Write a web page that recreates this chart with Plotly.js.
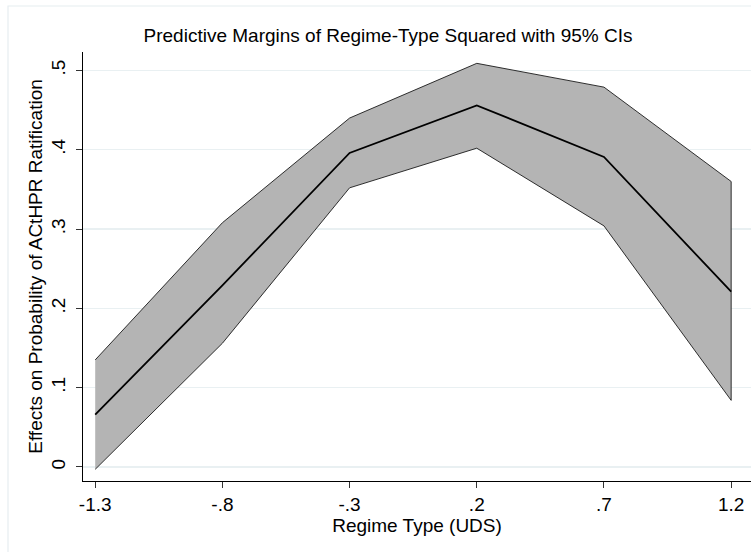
<!DOCTYPE html>
<html>
<head>
<meta charset="utf-8">
<script src="https://cdn.plot.ly/plotly-3.0.1.min.js"></script>
<style>
  html, body { margin: 0; padding: 0; background: #ffffff; }
  #chart { width: 751px; height: 552px; }
</style>
</head>
<body>
<div id="chart"></div>
<script>
// Regime type (UDS) values at which margins were computed
const regimeType = [-1.3, -0.8, -0.3, 0.2, 0.7, 1.2];
// Predicted probability of ratification and its 95% confidence bounds
const margin = [0.066, 0.229, 0.396, 0.456, 0.391, 0.221];
const upperCI = [0.135, 0.308, 0.440, 0.509, 0.479, 0.360];
const lowerCI = [-0.003, 0.156, 0.352, 0.402, 0.304, 0.084];

const xTickVals = [-1.3, -0.8, -0.3, 0.2, 0.7, 1.2];
const xTickText = ["-1.3", "-.8", "-.3", ".2", ".7", "1.2"];
const yTickVals = [0, 0.1, 0.2, 0.3, 0.4, 0.5];
const yTickText = ["0", ".1", ".2", ".3", ".4", ".5"];

// Closed polygon for the confidence band: upper bound forward, lower bound back
const bandX = regimeType.concat(regimeType.slice().reverse());
const bandY = upperCI.concat(lowerCI.slice().reverse());

const font = "Liberation Sans, Arial, sans-serif";
const fs = 19;

const traces = [
  {
    x: bandX, y: bandY, type: "scatter", mode: "lines",
    fill: "toself", fillcolor: "#b4b4b4",
    line: { color: "#1a1a1a", width: 0.9 },
    hoverinfo: "skip", showlegend: false
  },
  {
    x: regimeType, y: margin, type: "scatter", mode: "lines",
    line: { color: "#000000", width: 1.8 },
    showlegend: false
  }
];

const layout = {
  width: 751, height: 552,
  margin: { l: 83, r: 0, t: 52, b: 71 },
  paper_bgcolor: "#ffffff",
  plot_bgcolor: "#ffffff",
  font: { family: font, color: "#000000", size: fs },
  title: {
    text: "Predictive Margins of Regime-Type Squared with 95% CIs",
    font: { family: font, size: fs, color: "#000000" },
    x: 388 / 751, xref: "container", xanchor: "center",
    y: 1 - 35 / 552, yref: "container", yanchor: "middle"
  },
  xaxis: {
    range: [-1.348, 1.278],
    tickmode: "array", tickvals: xTickVals, ticktext: xTickText,
    ticks: "outside", ticklen: 6, tickwidth: 1, tickcolor: "#333333",
    showline: true, linecolor: "#000000", linewidth: 1.2,
    showgrid: false, zeroline: false,
    tickfont: { family: font, size: fs, color: "#000000" },
    title: { text: "Regime Type (UDS)", font: { family: font, size: fs, color: "#000000" }, standoff: 2 }
  },
  yaxis: {
    range: [-0.0177, 0.5233],
    tickmode: "array", tickvals: yTickVals, ticktext: yTickText,
    ticks: "outside", ticklen: 6, tickwidth: 1, tickcolor: "#333333",
    tickangle: -90, ticklabelstandoff: 3,
    showline: true, linecolor: "#000000", linewidth: 1.2,
    showgrid: true, gridcolor: "#e9f0f2", gridwidth: 1.2,
    zeroline: false,
    tickfont: { family: font, size: fs, color: "#000000" },
    title: { text: "Effects on Probability of ACtHPR Ratification", font: { family: font, size: fs, color: "#000000" }, standoff: 0 }
  },
  shapes: [
    {
      type: "rect", xref: "paper", yref: "paper",
      x0: (8 - 83) / 668, x1: 1.5,
      y0: -0.6, y1: (481 - 6) / 429,
      line: { color: "#e6edf0", width: 1.2 },
      fillcolor: "rgba(0,0,0,0)", layer: "below"
    }
  ]
};

Plotly.newPlot("chart", traces, layout, { displayModeBar: false, staticPlot: true });
</script>
</body>
</html>
